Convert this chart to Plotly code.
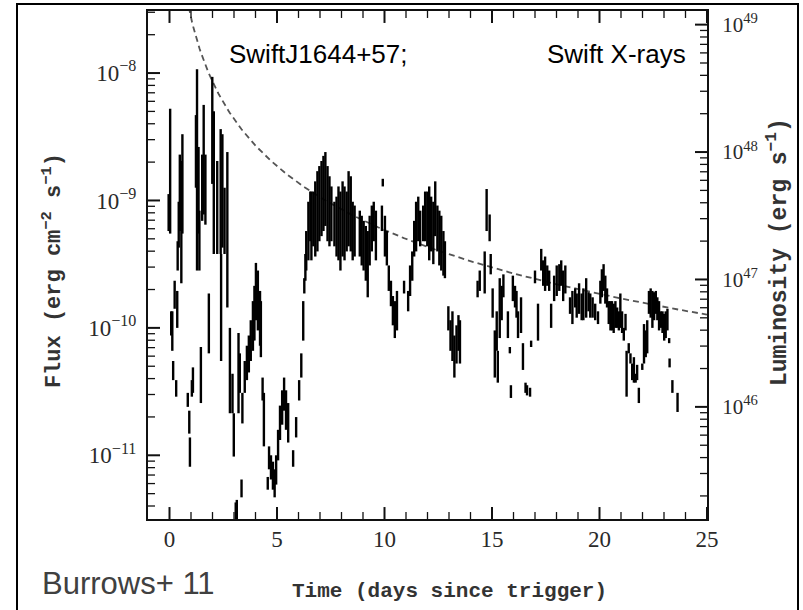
import plotly.graph_objects as go

# Swift/XRT light curve of Swift J1644+57: each point is an error bar
# (time in days since trigger, log10 flux lower / upper bound in erg cm^-2 s^-1)
t_days = [
    -0.04, 0.03, 0.08, 0.13, 0.17, 0.24, 0.31, 0.36, 0.38, 0.43, 0.48, 0.55, 0.60,
    0.85, 0.92, 0.95, 1.04, 1.09, 1.23, 1.28, 1.35, 1.39, 1.46, 1.52, 1.59, 1.67, 1.83,
    1.99, 2.06, 2.22, 2.38, 2.40, 2.46, 2.56, 2.69, 2.81, 2.93, 2.99, 3.08, 3.13, 3.21,
    3.27, 3.35, 3.39, 3.50, 3.60, 3.69, 3.78, 3.88, 3.95, 4.02, 4.11, 4.21, 4.25, 4.33,
    4.39, 4.57, 4.63, 4.72, 4.81, 4.89, 4.96, 5.05, 5.14, 5.24, 5.33, 5.42, 5.52, 5.75,
    5.89, 6.03, 6.13, 6.22, 6.27, 6.32, 6.36, 6.46, 6.55, 6.60, 6.69, 6.78, 6.88, 6.97,
    7.07, 7.16, 7.25, 7.35, 7.44, 7.53, 7.67, 7.77, 7.86, 7.95, 8.05, 8.14, 8.24, 8.33,
    8.43, 8.52, 8.61, 8.85, 8.94, 9.03, 9.13, 9.22, 9.31, 9.41, 9.50, 9.60, 9.88, 9.92,
    10.02, 10.11, 10.20, 10.30, 10.39, 10.48, 10.58, 10.91, 11.10, 11.19, 11.29, 11.38,
    11.47, 11.57, 11.66, 11.80, 11.89, 11.99, 12.08, 12.17, 12.27, 12.36, 12.46, 12.55,
    12.64, 12.74, 12.81, 12.97, 13.07, 13.16, 13.25, 13.35, 13.44, 13.51, 14.33, 14.43,
    14.66, 14.75, 14.89, 14.94, 15.03, 15.13, 15.22, 15.27, 15.36, 15.45, 15.53, 15.74,
    15.83, 15.88, 15.97, 16.07, 16.14, 16.21, 16.35, 16.44, 16.56, 16.63, 16.77, 16.82,
    17.00, 17.14, 17.29, 17.38, 17.47, 17.57, 17.66, 17.75, 17.89, 18.01, 18.13, 18.22,
    18.31, 18.41, 18.63, 18.74, 18.87, 18.94, 19.05, 19.17, 19.25, 19.38, 19.49, 19.57,
    19.68, 19.80, 19.93, 20.04, 20.11, 20.19, 20.27, 20.35, 20.43, 20.51, 20.58, 20.66,
    20.74, 20.82, 20.90, 20.97, 21.05, 21.13, 21.21, 21.26, 21.36, 21.44, 21.52, 21.60,
    21.68, 21.75, 21.83, 21.99, 22.07, 22.15, 22.22, 22.30, 22.38, 22.46, 22.54, 22.62,
    22.69, 22.77, 22.85, 22.93, 23.01, 23.08, 23.16, 23.24, 23.26, 23.39, 23.63,
]
logf_hi = [
    -8.95, -8.28, -9.87, -9.87, -10.26, -9.63, -10.41, -9.71, -9.32, -9.01, -8.64, -8.69, -8.48,
    -10.51, -10.65, -10.86, -10.41, -10.31, -8.33, -7.97, -8.58, -9.08, -10.15, -8.64, -8.25, -8.64, -9.73,
    -8.03, -8.30, -8.69, -8.44, -9.42, -8.48, -8.90, -8.62, -10.00, -10.36, -10.67, -11.37, -11.35, -10.04,
    -10.20, -11.19, -10.51, -10.26, -10.14, -10.06, -9.94, -9.79, -9.67, -9.49, -9.55, -9.71, -9.79, -10.39,
    -10.51, -11.17, -10.93, -11.00, -11.05, -11.11, -11.00, -10.80, -10.61, -10.49, -10.39, -10.49, -10.59, -10.96,
    -10.70, -10.41, -10.20, -9.79, -9.61, -9.42, -9.24, -9.01, -8.93, -8.93, -8.93, -8.85, -8.77, -8.73,
    -8.69, -8.65, -8.62, -8.73, -8.81, -8.89, -9.01, -8.97, -8.89, -8.93, -8.85, -8.89, -8.93, -8.77,
    -8.81, -9.01, -9.04, -9.08, -9.12, -9.16, -9.20, -9.24, -9.12, -9.04, -9.01, -9.08, -9.04, -8.83,
    -9.12, -9.24, -9.51, -9.63, -9.75, -9.79, -9.71, -9.63, -9.71, -9.51, -9.40, -9.16,
    -9.01, -8.97, -9.08, -9.04, -8.93, -8.93, -8.89, -8.97, -9.01, -8.85, -9.04, -9.08,
    -9.12, -9.24, -9.32, -9.83, -9.94, -9.87, -10.06, -9.98, -9.90, -9.94, -9.63, -9.55,
    -9.40, -8.91, -9.11, -9.42, -9.69, -10.02, -9.87, -10.18, -9.61, -9.67, -9.58, -9.87,
    -10.15, -10.45, -9.59, -9.67, -9.71, -9.87, -9.76, -10.12, -10.43, -10.45, -10.47, -10.10,
    -9.55, -9.81, -9.38, -9.47, -9.44, -9.51, -9.55, -9.81, -9.59, -9.51, -9.50, -9.47,
    -9.55, -9.51, -9.76, -9.71, -9.69, -9.73, -9.65, -9.73, -9.69, -9.61, -9.72, -9.73,
    -9.76, -9.81, -9.87, -9.63, -9.54, -9.50, -9.59, -9.69, -9.79, -9.79, -9.79, -9.81,
    -9.79, -9.84, -9.87, -9.73, -9.87, -10.00, -9.89, -10.18, -10.12, -10.20, -10.28, -10.23,
    -10.36, -10.29, -10.47, -10.28, -9.97, -10.02, -9.94, -9.71, -9.69, -9.71, -9.72, -9.71,
    -9.76, -9.79, -9.87, -9.87, -9.89, -9.87, -9.85, -10.08, -10.24, -10.41, -10.51,
]
logf_lo = [
    -9.24, -9.26, -10.06, -10.18, -10.41, -9.85, -10.54, -10.00, -9.55, -9.37, -9.24, -9.65, -9.26,
    -10.62, -10.83, -11.09, -10.54, -10.51, -8.90, -9.55, -9.26, -9.55, -10.59, -9.16, -9.11, -9.19, -10.20,
    -8.87, -9.42, -9.42, -9.42, -10.26, -9.37, -9.42, -9.84, -10.67, -10.67, -11.01, -11.50, -11.50, -10.67,
    -10.51, -11.33, -10.75, -10.51, -10.41, -10.35, -10.26, -10.18, -10.10, -9.94, -10.02, -10.14, -10.23, -10.57,
    -10.93, -11.27, -11.11, -11.19, -11.27, -11.33, -11.23, -11.04, -10.88, -10.76, -10.65, -10.80, -10.90, -11.09,
    -10.86, -10.57, -10.39, -10.10, -9.73, -9.63, -9.55, -9.47, -9.32, -9.47, -9.36, -9.44, -9.40, -9.32,
    -9.28, -9.24, -9.20, -9.32, -9.36, -9.32, -9.36, -9.44, -9.47, -9.55, -9.44, -9.47, -9.40, -9.36,
    -9.40, -9.47, -9.44, -9.44, -9.51, -9.55, -9.63, -9.76, -9.51, -9.40, -9.32, -9.47, -9.24, -8.89,
    -9.44, -9.51, -9.71, -9.83, -9.98, -10.08, -10.02, -9.73, -9.87, -9.75, -9.63, -9.44,
    -9.40, -9.32, -9.36, -9.32, -9.32, -9.36, -9.47, -9.40, -9.50, -9.28, -9.40, -9.51,
    -9.55, -9.59, -9.61, -10.02, -10.18, -10.26, -10.39, -10.28, -10.18, -10.28, -9.76, -9.71,
    -9.73, -9.24, -9.32, -9.58, -9.92, -10.39, -10.18, -10.43, -10.08, -9.94, -9.76, -10.08,
    -10.20, -10.55, -9.79, -9.84, -9.92, -10.08, -10.04, -10.33, -10.51, -10.53, -10.54, -10.15,
    -9.65, -10.10, -9.55, -9.67, -9.71, -9.67, -9.71, -10.00, -9.79, -9.75, -9.71, -9.67,
    -9.79, -9.73, -9.89, -9.97, -9.84, -9.92, -9.89, -9.94, -9.94, -9.92, -9.87, -9.92,
    -9.92, -9.94, -9.97, -9.81, -9.76, -9.71, -9.81, -9.84, -9.97, -10.02, -10.02, -10.04,
    -10.00, -10.00, -10.02, -10.00, -10.04, -10.10, -10.02, -10.54, -10.20, -10.28, -10.41, -10.43,
    -10.43, -10.41, -10.59, -10.33, -10.28, -10.23, -10.20, -9.89, -9.92, -10.00, -9.94, -9.89,
    -9.94, -10.02, -10.00, -10.04, -10.10, -10.08, -10.02, -10.12, -10.31, -10.51, -10.66,
]

# t^-5/3 fallback model: log10 flux at t = 1 day and decay index
model_logf_1day = -7.566
model_index = -5.0 / 3.0
model_t = [0.8 + 0.05 * i for i in range(485)]

# log10(4 pi d_L^2) converting flux to luminosity
log_4pi_dl2 = 56.62

time_range = [-1, 25]
flux_range = [-11.5, -7.513]
lum_range = [flux_range[0] + log_4pi_dl2, flux_range[1] + log_4pi_dl2]

time_major = [0, 5, 10, 15, 20, 25]
time_minor = [d for d in range(0, 25) if d % 5 != 0]
flux_decades = [-11, -10, -9, -8]
lum_decades = [46, 47, 48, 49]

# page and plot-area geometry (px)
fig_w, fig_h = 803, 610
m_l, m_r, m_t, m_b = 148, 96, 9, 91
plot_w = fig_w - m_l - m_r
plot_h = fig_h - m_t - m_b
days_per_px = (time_range[1] - time_range[0]) / plot_w
dex_per_px = (flux_range[1] - flux_range[0]) / plot_h
major_len, minor_len = 12, 7

flux_minor = [k * 10.0 ** d for d in range(-12, -6) for k in range(2, 10)
              if flux_range[0] < d + __import__("math").log10(k) < flux_range[1]]
lum_minor = [k * 10.0 ** d for d in range(45, 50) for k in range(2, 10)
             if lum_range[0] < d + __import__("math").log10(k) < lum_range[1]]
flux_major = [10.0 ** d for d in flux_decades]
lum_major = [10.0 ** d for d in lum_decades]

# error bars as vertical segments separated by gaps
seg_x, seg_y = [], []
for t, lo, hi in zip(t_days, logf_lo, logf_hi):
    seg_x += [t, t, None]
    seg_y += [10.0 ** lo, 10.0 ** hi, None]

model_flux = [10.0 ** model_logf_1day * t ** model_index for t in model_t]


def time_ticks(vals, length_px):
    """Inward tick marks on the bottom and top edges, in data units."""
    xs, ys = [], []
    dl = length_px * dex_per_px
    y_bot, y_top = flux_range
    for v in vals:
        xs += [v, v, None, v, v, None]
        ys += [10.0 ** y_bot, 10.0 ** (y_bot + dl), None,
               10.0 ** y_top, 10.0 ** (y_top - dl), None]
    return xs, ys


def side_ticks(vals, length_px, right):
    """Inward tick marks on the left (flux) or right (luminosity) edge."""
    xs, ys = [], []
    dx = length_px * days_per_px
    x0 = time_range[1] if right else time_range[0]
    x1 = x0 - dx if right else x0 + dx
    for v in vals:
        xs += [x0, x1, None]
        ys += [v, v, None]
    return xs, ys


fig = go.Figure()
fig.add_trace(go.Scatter(
    x=model_t, y=model_flux, mode="lines",
    line=dict(color="#555555", width=1.8, dash="6px,4px"),
    hoverinfo="skip", showlegend=False,
))
fig.add_trace(go.Scatter(
    x=seg_x, y=seg_y, mode="lines",
    line=dict(color="black", width=2.4),
    connectgaps=False, showlegend=False,
))

ink = "#111111"
tick_sets = [
    (time_ticks(time_major, major_len), "y", 2),
    (time_ticks(time_minor, minor_len), "y", 1.3),
    (side_ticks(flux_major, major_len, False), "y", 2),
    (side_ticks(flux_minor, minor_len, False), "y", 1.3),
    (side_ticks(lum_major, major_len, True), "y2", 2),
    (side_ticks(lum_minor, minor_len, True), "y2", 1.3),
]
for (tx, ty), ya, w in tick_sets:
    fig.add_trace(go.Scatter(
        x=tx, y=ty, yaxis=ya, mode="lines",
        line=dict(color=ink, width=w),
        connectgaps=False, hoverinfo="skip", showlegend=False,
    ))

serif = "Liberation Serif"
tick_col = "#2a2a2a"

flux_ticktext = ["10<sup>\u2212%d</sup>" % (-d) for d in flux_decades]
lum_ticktext = ["10<sup>%d</sup>" % d for d in lum_decades]

axis_base = dict(showgrid=False, zeroline=False, ticks="",
                 showline=True, linecolor=ink, linewidth=2)

fig.update_layout(
    width=fig_w, height=fig_h,
    margin=dict(l=m_l, r=m_r, t=m_t, b=m_b),
    paper_bgcolor="white", plot_bgcolor="white",
    showlegend=False,
    xaxis=dict(
        range=time_range, mirror=True, tickmode="array", tickvals=time_major,
        tickfont=dict(family=serif, size=23, color=tick_col), ticklabelstandoff=-2,
        **axis_base,
    ),
    yaxis=dict(
        type="log", range=flux_range, tickmode="array",
        tickvals=flux_major, ticktext=flux_ticktext,
        tickfont=dict(family=serif, size=23, color=tick_col), ticklabelstandoff=5,
        **axis_base,
    ),
    yaxis2=dict(
        type="log", range=lum_range, overlaying="y", anchor="x", side="right",
        tickmode="array", tickvals=lum_major, ticktext=lum_ticktext,
        tickfont=dict(family=serif, size=21, color=tick_col), ticklabelstandoff=9,
        **axis_base,
    ),
)

title_font = dict(family="Liberation Mono", color="#333333", weight="bold")

fig.add_annotation(
    text="Flux (erg cm<sup>\u22122</sup> s<sup>\u22121</sup>)",
    xref="paper", yref="paper", x=-0.1717, y=0.488,
    xanchor="center", yanchor="middle", textangle=-90, showarrow=False,
    font=dict(size=22, **title_font),
)
fig.add_annotation(
    text="Luminosity (erg s<sup>\u22121</sup>)",
    xref="paper", yref="paper", x=1.127, y=0.5255,
    xanchor="center", yanchor="middle", textangle=-90, showarrow=False,
    font=dict(size=23, **title_font),
)
fig.add_annotation(
    text="Time (days since trigger)",
    xref="paper", yref="paper", x=0.540, y=-0.143,
    xanchor="center", yanchor="middle", showarrow=False,
    font=dict(size=21, **title_font),
)
fig.add_annotation(
    text="SwiftJ1644+57;",
    xref="paper", yref="paper", x=0.1413, y=0.915,
    xanchor="left", yanchor="middle", showarrow=False,
    font=dict(family="Liberation Sans", size=26, color="black"),
)
fig.add_annotation(
    text="Swift X-rays",
    xref="paper", yref="paper", x=0.966, y=0.915,
    xanchor="right", yanchor="middle", showarrow=False,
    font=dict(family="Liberation Sans", size=26, color="black"),
)
fig.add_annotation(
    text="Burrows+ 11",
    xref="paper", yref="paper", x=-0.1932, y=-0.1275,
    xanchor="left", yanchor="middle", showarrow=False,
    font=dict(family="Liberation Sans", size=31, color="#404040"),
)

# outer frame around the whole figure (an empty bordered box)
fig.add_annotation(
    text=" ", xref="paper", yref="paper", x=0.4642, y=0.4147,
    xanchor="center", yanchor="middle", showarrow=False,
    width=779, height=607, borderpad=0, borderwidth=2, bordercolor="black",
    bgcolor="rgba(0,0,0,0)",
)

fig.write_html("out.html")
